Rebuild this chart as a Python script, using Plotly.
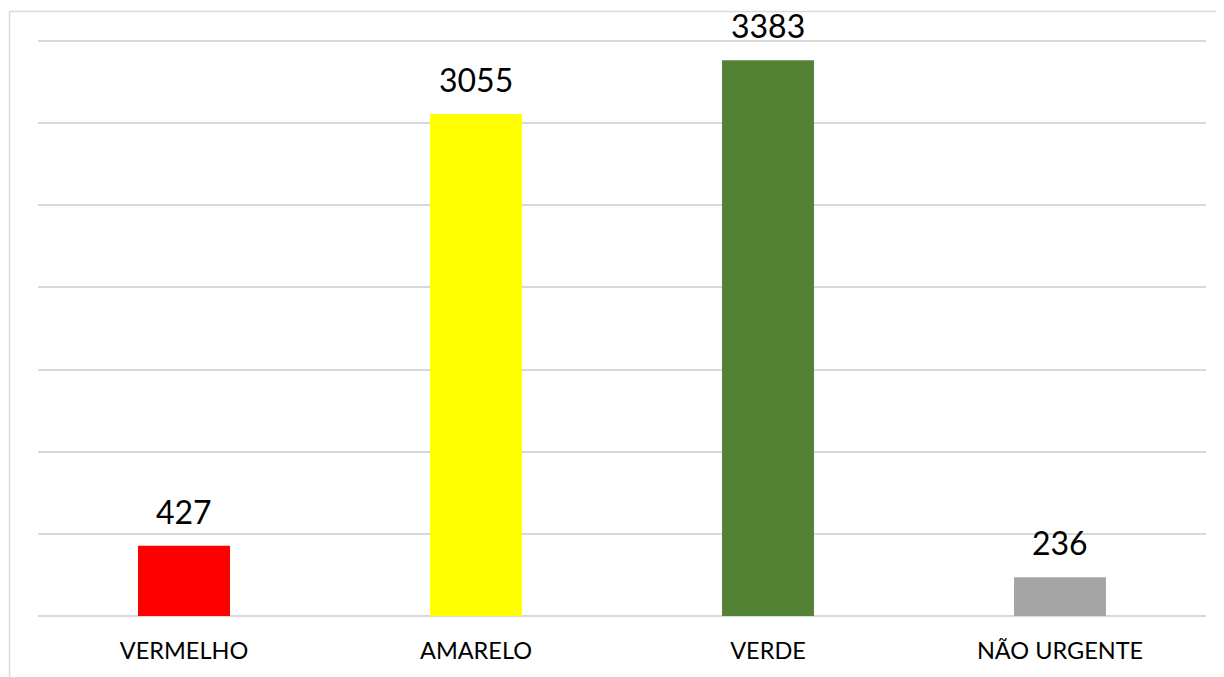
import plotly.graph_objects as go

categories = ["VERMELHO", "AMARELO", "VERDE", "NÃO URGENTE"]
values = [427, 3055, 3383, 236]
colors = ["#ff0000", "#ffff00", "#548235", "#a5a5a5"]
grid_ticks = [0, 500, 1000, 1500, 2000, 2500, 3000, 3500]
y_max = 3530

W, H = 1224, 677
OFF = 8  # page body margin offset
# desired plot area in viewport pixels: x 38..1206, y ~36..616
L = 38 - OFF
T = 36 - OFF
R = W - (1206 - OFF)
B = H - (616 - OFF)
pw, ph = W - L - R, H - T - B

def px_x(x):
    return (x - OFF - L) / pw

def px_y(y):
    return 1 - (y - OFF - T) / ph

FONT = "Lato, Carlito, Calibri, sans-serif"

fig = go.Figure()
fig.add_trace(go.Bar(
    x=categories, y=values,
    marker=dict(color=colors, line=dict(width=0)),
    width=0.315,
    hoverinfo="x+y",
))

for c, v in zip(categories, values):
    fig.add_annotation(
        x=c, y=v, xref="x", yref="y",
        text=str(v), showarrow=False,
        yanchor="bottom", yshift=13,
        font=dict(family=FONT, size=32, color="#000000"),
    )

border = "#d9d9d9"
bx = px_x(9.5)
by = px_y(11.5)
fig.add_shape(type="line", xref="paper", yref="paper",
              x0=bx, x1=bx, y0=px_y(720), y1=by,
              line=dict(color=border, width=1.5))
fig.add_shape(type="line", xref="paper", yref="paper",
              x0=bx, x1=px_x(1260), y0=by, y1=by,
              line=dict(color=border, width=1.5))

fig.update_layout(
    width=W, height=H,
    margin=dict(l=L, r=R, t=T, b=B, pad=0),
    paper_bgcolor="white", plot_bgcolor="white",
    showlegend=False,
    xaxis=dict(
        showgrid=False, showline=False, zeroline=False,
        ticks="", tickfont=dict(family=FONT, size=23.5, color="#000000"),
        ticklabelstandoff=18,
    ),
    yaxis=dict(
        range=[0, y_max], tickvals=grid_ticks,
        showticklabels=False,
        showgrid=True, gridcolor=border, gridwidth=1.5,
        zeroline=True, zerolinecolor=border, zerolinewidth=1.5,
        showline=False, ticks="",
    ),
)

fig.write_html("out.html")
